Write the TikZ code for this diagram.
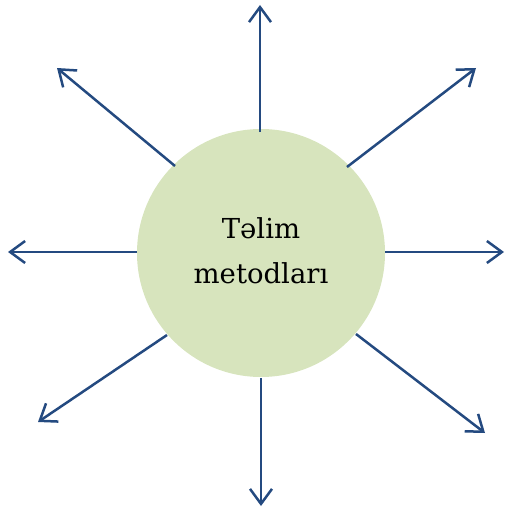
\documentclass[tikz,border=0pt]{standalone}
\usepackage{fontspec}
\setmainfont{DejaVu Serif}
\usetikzlibrary{arrows.meta}
\definecolor{arrowblue}{HTML}{244A80}
\definecolor{circlegreen}{HTML}{D7E4BD}
\tikzset{
  spoke/.style={draw=arrowblue, line width=2.5pt, -{Straight Barb[length=15pt, width=22pt, line width=2.5pt]}},
  hub/.style={circle, fill=circlegreen, minimum size=248pt, inner sep=0pt},
  hubtext/.style={align=center, inner sep=0pt, font=\fontsize{27.5pt}{45pt}\selectfont}
}
\begin{document}
\begin{tikzpicture}[x=1pt, y=-1pt]
\useasboundingbox (0,0) rectangle (505,511);
\node[hub] (c) at (261,253) {};
\node[hubtext] (t) at (261,251) {Təlim\\metodları};
% start points on the circle
\coordinate (sU) at (260,132);
\coordinate (sD) at (261,378);
\coordinate (sL) at (137,252);
\coordinate (sR) at (385,252);
\coordinate (sUL) at (175,166);
\coordinate (sUR) at (347,167);
\coordinate (sLL) at (167,335);
\coordinate (sLR) at (356,334);
% end points
\coordinate (eU) at (260,5);
\coordinate (eD) at (261,506);
\coordinate (eL) at (8,252);
\coordinate (eR) at (504,252);
\coordinate (eUL) at (57,68);
\coordinate (eUR) at (476,68);
\coordinate (eLL) at (38,422);
\coordinate (eLR) at (485,433);
\draw[spoke] (sU) -- (eU);
\draw[spoke] (sD) -- (eD);
\draw[spoke] (sL) -- (eL);
\draw[spoke] (sR) -- (eR);
\draw[spoke] (sUL) -- (eUL);
\draw[spoke] (sUR) -- (eUR);
\draw[spoke] (sLL) -- (eLL);
\draw[spoke] (sLR) -- (eLR);
\end{tikzpicture}
\end{document}
